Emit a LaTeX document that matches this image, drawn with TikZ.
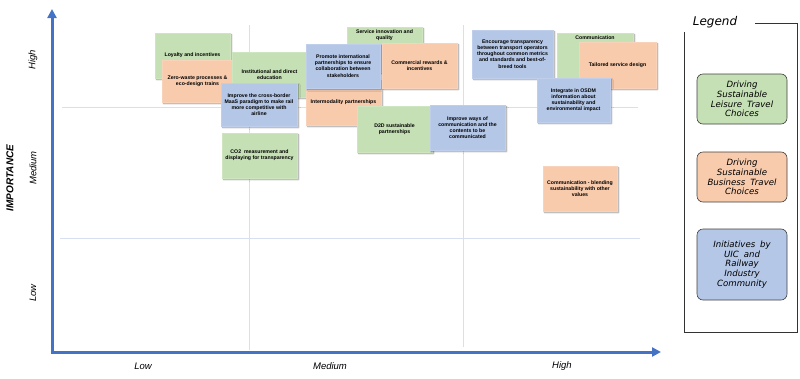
\documentclass[tikz,border=0pt]{standalone}
\usepackage{fontspec}
\setmainfont{Liberation Sans}
\newfontfamily\legendfont[WordSpace={1.8}]{DejaVu Sans}
\usetikzlibrary{arrows.meta,shadows.blur}
\definecolor{axisblue}{HTML}{4472C4}
\definecolor{gridblue}{HTML}{D6E0F2}
\definecolor{qgreen}{HTML}{C5E0B4}
\definecolor{qorange}{HTML}{F8CBAD}
\definecolor{qblue}{HTML}{B4C7E7}
\tikzset{
  axis/.style={draw=axisblue,line width=3pt,-{Triangle[length=9pt,width=9pt]}},
  gridline/.style={draw=gridblue,line width=1pt},
  qbase/.style={rectangle,inner sep=1pt,align=center,
    font=\fontsize{5.2}{6.2}\selectfont\bfseries,
    blur shadow={shadow xshift=1.6pt,shadow yshift=-1.6pt,shadow blur radius=1.4pt,shadow opacity=45}},
  gbox/.style={qbase,fill=qgreen,draw=qgreen!85!white,line width=0.4pt},
  obox/.style={qbase,fill=qorange,draw=qorange!85!white,line width=0.4pt},
  bbox/.style={qbase,fill=qblue,draw=qblue!85!white,line width=0.4pt},
  toplabel/.style={anchor=north,yshift=-3pt,align=center,inner sep=0pt,
    font=\fontsize{5.2}{6.2}\selectfont\bfseries},
  axlab/.style={font=\fontsize{9.5}{10}\selectfont\itshape,inner sep=0pt},
  legbox/.style={rectangle,rounded corners=6pt,draw=black!75,line width=0.6pt,
    minimum width=90pt,inner sep=1pt,align=center,font=\legendfont\itshape\fontsize{8.6}{9.8}\selectfont},
}
\newcommand{\qbox}[7]{%
  \node[#6,minimum width={#4-#2},minimum height={#5-#3}] (#1) at ({(#2+#4)/2},{(#3+#5)/2}) {#7};}
\begin{document}
\begin{tikzpicture}[x=1pt,y=-1pt]
\useasboundingbox (0,0) rectangle (800,378);
% grid
\coordinate (h1a) at (62,107.5); \coordinate (h1b) at (638,107.5);
\coordinate (h2a) at (60,238); \coordinate (h2b) at (640,238);
\coordinate (v1a) at (249.5,25); \coordinate (v1b) at (249.5,350);
\coordinate (v2a) at (463,25); \coordinate (v2b) at (463,347);
\draw[gridline] (h1a) -- (h1b);
\draw[gridline] (h2a) -- (h2b);
\draw[gridline] (v1a) -- (v1b);
\draw[gridline] (v2a) -- (v2b);
% axes
\coordinate (origin) at (52,352);
\coordinate (ytip) at (52,9);
\coordinate (xtip) at (661,352);
\draw[axis,-] (52,353.5) -- (52,350);
\draw[axis] (origin) -- (ytip);
\draw[axis] (50.5,352) -- (xtip);
% axis labels
\node[axlab,rotate=90] (yhigh) at (33,60) {High};
\node[axlab,rotate=90] (ymed) at (33,168) {Medium};
\node[axlab,rotate=90] (ylow) at (33,293) {Low};
\node[font=\fontsize{10}{11}\selectfont\bfseries\itshape,rotate=90,inner sep=0pt] (yname) at (10,178) {IMPORTANCE};
\node[axlab] (xlow) at (143,366) {Low};
\node[axlab] (xmed) at (330,366) {Medium};
\node[axlab] (xhigh) at (562,366) {High};
% boxes
\qbox{loyal}{155}{33}{230}{78}{gbox}{Loyalty and incentives}
\qbox{zero}{162}{60}{233}{102}{obox}{Zero-waste processes \&\\eco-design trains}
\qbox{inst}{232}{52}{307}{97}{gbox}{Institutional and direct\\education}
\qbox{maas}{221}{83}{297}{126}{bbox}{Improve the cross-border\\MaaS paradigm to make rail\\more competitive with\\airline}
\qbox{co2}{222}{133}{297}{178}{gbox}{CO2\ \ measurement and\\displaying for transparency}
\qbox{serv}{347}{27}{422}{72}{gbox}{}
\node[toplabel] (servt) at (serv.north) {Service innovation and\\quality};
\qbox{inter}{306}{80}{381}{125}{obox}{Intermodality partnerships}
\qbox{prom}{306}{44}{380}{88}{bbox}{Promote international\\partnerships to ensure\\collaboration between\\stakeholders}
\qbox{comm}{382}{43}{457}{88}{obox}{Commercial rewards \&\\incentives}
\qbox{d2d}{357}{106}{432}{152}{gbox}{D2D sustainable\\partnerships}
\qbox{ways}{430}{105}{505}{150}{bbox}{Improve ways of\\communication and the\\contents to be\\communicated}
\qbox{enc}{472}{30}{553}{78}{bbox}{Encourage transparency\\between transport operators\\throughout common metrics\\and standards and best-of-\\breed tools}
\qbox{commu}{557}{33}{633}{78}{gbox}{}
\node[toplabel] (commut) at (commu.north) {Communication};
\qbox{tail}{579}{42}{656}{88}{obox}{Tailored service design}
\qbox{osdm}{537}{78}{610}{122}{bbox}{Integrate in OSDM\\information about\\sustainability and\\environmental impact}
\qbox{blend}{543}{166}{617}{211}{obox}{Communication - blending\\sustainability with other\\values}
% legend frame
\coordinate (lf1) at (755,23); \coordinate (lf2) at (797,23);
\coordinate (lf3) at (797,332); \coordinate (lf4) at (684,332);
\coordinate (lf5) at (684,32);
\draw[black!80,line width=0.7pt] (lf1) -- (lf2) -- (lf3) -- (lf4) -- (lf5);
\node[font=\legendfont\itshape\fontsize{12}{14}\selectfont,inner sep=0pt] (legtitle) at (715,22) {Legend};
\node[legbox,fill=qgreen,minimum height=50pt] (lg) at (742,99) {Driving\\Sustainable\\Leisure Travel\\Choices};
\node[legbox,fill=qorange,minimum height=50pt] (lo) at (742,177) {Driving\\Sustainable\\Business Travel\\Choices};
\node[legbox,fill=qblue,minimum height=71pt] (lb) at (742,264.5) {Initiatives by\\UIC and\\Railway\\Industry\\Community};
\end{tikzpicture}
\end{document}
